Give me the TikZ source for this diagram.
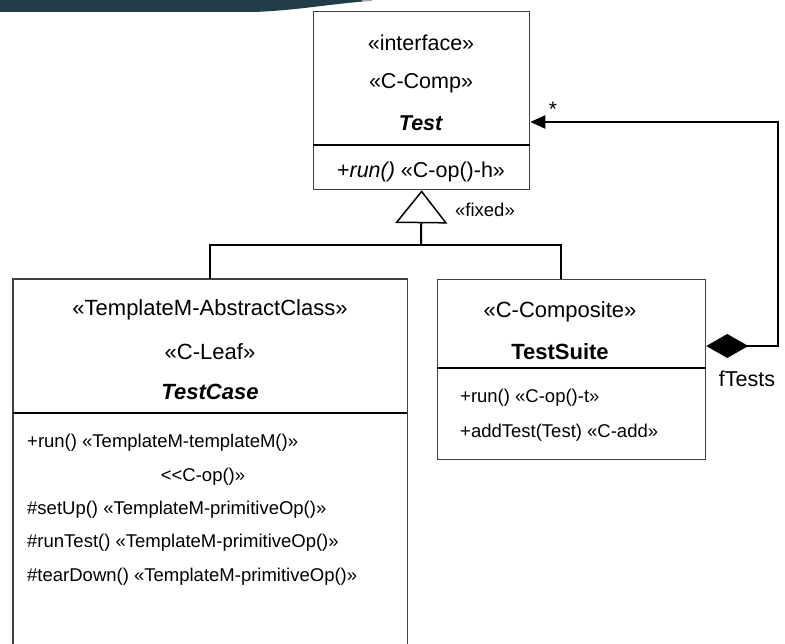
\documentclass[tikz,border=0pt]{standalone}
\usepackage{fontspec}
\setmainfont{Liberation Sans}
\usetikzlibrary{arrows.meta}
\definecolor{band}{HTML}{213E48}
\tikzset{
  box/.style={draw=black!75, line width=1.3pt, inner sep=0pt, anchor=north west},
  big/.style={font=\fontsize{21.5}{24}\selectfont, inner sep=0pt},
  mid/.style={font=\fontsize{18.5}{21}\selectfont, inner sep=0pt},
  conn/.style={draw=black, line width=2pt},
  divider/.style={draw=black, line width=1.3pt}
}
\begin{document}
\begin{tikzpicture}[x=1pt,y=-1pt]
\useasboundingbox (0,0) rectangle (785,644);
% top band
\fill[black!35] (230,12) .. controls (300,10) and (340,3) .. (372,1) -- (372,0) -- (230,0) -- cycle;
\fill[band] (0,0) -- (0,12) -- (255,12) .. controls (300,10) and (330,4) .. (362,1.5) -- (362,0) -- cycle;

% Test interface
\node[box, minimum width=216, minimum height=178] (test) at (313,11) {};
\draw[divider] (test.west |- 0,145) -- (test.east |- 0,145);
\node[big] (t1) at (421,43) {«interface»};
\node[big] (t2) at (421,83) {«C-Comp»};
\node[big] (t3) at (421,123) {\textbf{\textit{Test}}};
\node[big] (t4) at (421,172) {+\textit{run()} «C-op()-h»};

% TestCase
\node[inner sep=0pt, anchor=north west, minimum width=394, minimum height=365] (testcase) at (13,279) {};
\draw[draw=black!75, line width=1.3pt] (testcase.south west) -- (testcase.north west) -- (testcase.north east) -- (testcase.south east);
\draw[divider] (testcase.west |- 0,413) -- (testcase.east |- 0,413);
\node[big, font=\fontsize{22}{24}\selectfont] (c1) at (210,310) {«TemplateM-AbstractClass»};
\node[big, font=\fontsize{22}{24}\selectfont] (c2) at (210,352) {«C-Leaf»};
\node[big, font=\fontsize{22}{24}\selectfont] (c3) at (210,392) {\textbf{\textit{TestCase}}};
\node[mid, anchor=west] (m1) at (27,443) {+run() «TemplateM-templateM()»};
\node[mid] (m2) at (203,477) {<{}<C-op()»};
\node[mid, anchor=west] (m3) at (27,510) {\#setUp() «TemplateM-primitiveOp()»};
\node[mid, anchor=west] (m4) at (27,543) {\#runTest() «TemplateM-primitiveOp()»};
\node[mid, anchor=west] (m5) at (27,577) {\#tearDown() «TemplateM-primitiveOp()»};

% TestSuite
\node[box, minimum width=268, minimum height=180] (testsuite) at (437,279) {};
\draw[divider] (testsuite.west |- 0,368) -- (testsuite.east |- 0,368);
\node[big, font=\fontsize{22}{24}\selectfont] (s1) at (560,312) {«C-Composite»};
\node[big, font=\fontsize{22}{24}\selectfont] (s2) at (560,352) {\textbf{TestSuite}};
\node[mid, anchor=west] (s3) at (460,398) {+run() «C-op()-t»};
\node[mid, anchor=west] (s4) at (460,433) {+addTest(Test) «C-add»};

% generalization
\coordinate (hub) at (421,245);
\coordinate (tsin) at (561,279);
\draw[conn] (testcase.north) -- (testcase.north |- hub) -| (tsin);
\draw[conn, -{Triangle[open, length=33pt, width=52pt, fill=white, line width=1.5pt]}] (hub) -- (test.south);
\node[mid] (fixed) at (485,210) {«fixed»};

% composition
\coordinate (cr) at (778,346);
\coordinate (ct) at (778,122);
\draw[conn, {Diamond[length=42pt, width=24pt]}-{Triangle[length=15pt, width=13pt]}] (testsuite.east |- cr) -- (cr) -- (ct) -- (test.east |- ct);
\node[font=\fontsize{21}{22}\selectfont, inner sep=0pt] (star) at (553,109) {*};
\node[big, font=\fontsize{21.5}{24}\selectfont] (ft) at (747,379) {fTests};
\end{tikzpicture}
\end{document}
